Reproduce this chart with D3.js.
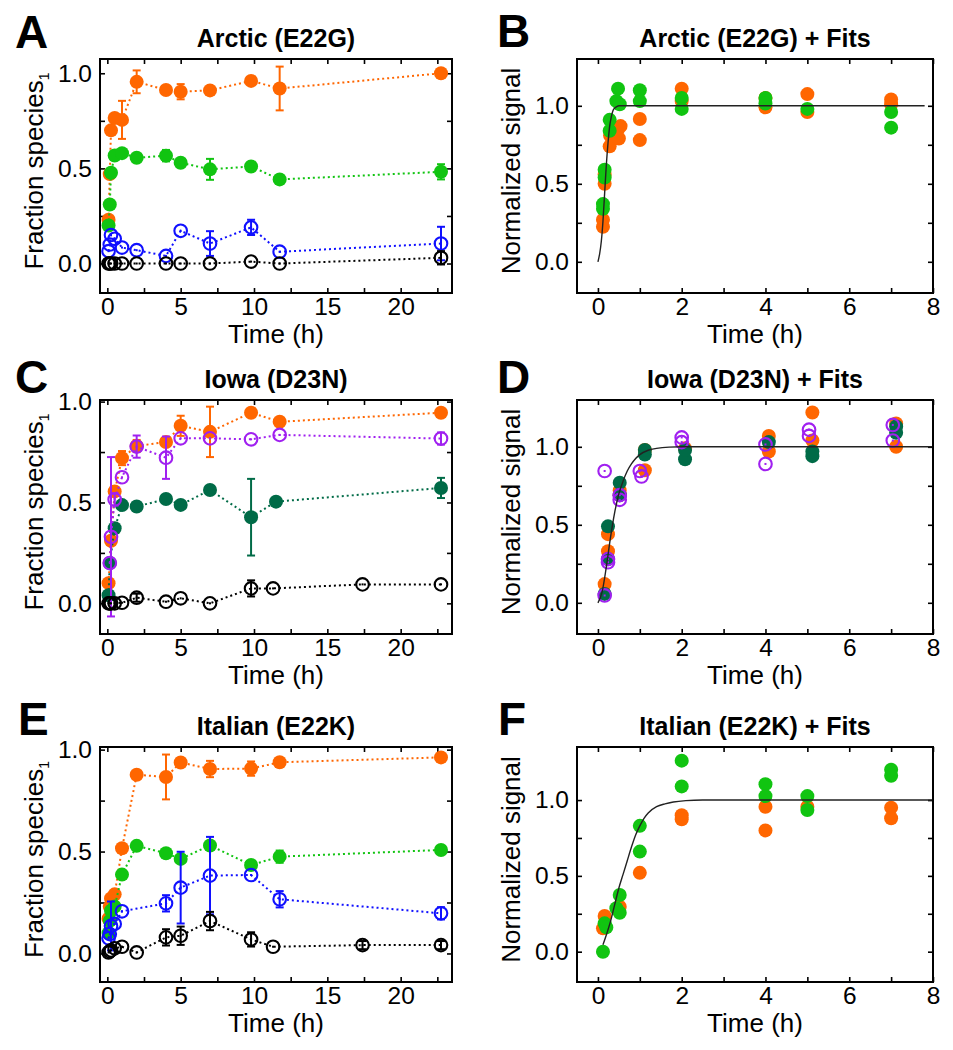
<!DOCTYPE html>
<html>
<head>
<meta charset="utf-8">
<script src="https://cdn.jsdelivr.net/npm/d3@7"></script>
<style>
  html, body { margin: 0; padding: 0; background: #fff; }
  svg { display: block; }
  text { font-family: "Liberation Sans", Arial, Helvetica, sans-serif; fill: #000; }
</style>
</head>
<body>
<svg id="chart" width="953" height="1050"></svg>
<script>
// ---------------- DATA ----------------
// Panel A: Arctic (E22G)
const A_time = [0.083, 0.167, 0.25, 0.5, 1, 2, 4, 5, 7, 9.8, 11.75, 22.75];
const A_orange = [0.23, 0.47, 0.70, 0.765, 0.755, 0.955, 0.912, 0.903, 0.91, 0.96, 0.92, 1.0];
const A_orange_err = [0, 0, 0, 0, 0.1, 0.06, 0, 0.04, 0, 0, 0.115, 0];
const A_green = [0.20, 0.31, 0.477, 0.568, 0.58, 0.556, 0.567, 0.53, 0.495, 0.51, 0.442, 0.482];
const A_green_err = [0, 0, 0, 0, 0, 0, 0.03, 0, 0.055, 0, 0, 0.04];
const A_blue = [0.065, 0.10, 0.15, 0.13, 0.084, 0.07, 0.04, 0.172, 0.105, 0.19, 0.062, 0.105];
const A_blue_err = [0, 0, 0, 0, 0, 0, 0, 0, 0.065, 0.04, 0, 0.088];
const A_black = [0, 0, 0, 0, 0, 0, 0, 0, 0, 0.01, 0, 0.03];
const A_black_err = [0, 0, 0, 0, 0, 0, 0, 0, 0, 0, 0, 0.035];

// Panel C: Iowa (D23N)
const C_orange_t = [0.083, 0.25, 0.5, 1, 2, 4, 5, 7, 9.8, 11.75, 22.75];
const C_orange = [0.10, 0.31, 0.555, 0.72, 0.78, 0.80, 0.88, 0.85, 0.945, 0.90, 0.945];
const C_orange_err = [0, 0, 0.02, 0.035, 0.03, 0, 0.05, 0.125, 0, 0, 0];
const C_green_t = [0.083, 0.167, 0.5, 1, 2, 4, 5, 7, 9.8, 11.5, 22.75];
const C_green = [0.04, 0.2, 0.372, 0.487, 0.48, 0.517, 0.488, 0.562, 0.427, 0.504, 0.572];
const C_green_err = [0, 0, 0, 0, 0, 0, 0, 0, 0.19, 0, 0.05];
const C_purple_t = [0.167, 0.25, 0.5, 1, 2, 4, 5, 7, 9.8, 11.75, 22.75];
const C_purple = [0.20, 0.33, 0.515, 0.625, 0.777, 0.722, 0.818, 0.818, 0.813, 0.835, 0.817];
const C_purple_err = [0, 0.395, 0.03, 0, 0.055, 0.105, 0, 0, 0, 0, 0.03];
const C_black_t = [0.083, 0.167, 0.25, 0.5, 1, 2, 4, 5, 7, 9.8, 11.3, 17.4, 22.75];
const C_black = [0, 0, 0, 0, 0.003, 0.028, 0.008, 0.025, 0.0, 0.074, 0.074, 0.094, 0.094];
const C_black_err = [0, 0, 0, 0, 0, 0.02, 0, 0, 0, 0.04, 0, 0, 0];

// Panel E: Italian (E22K)
const E_time = [0.083, 0.167, 0.25, 0.5, 1, 2, 4, 5, 7, 9.8, 11.75, 22.75];
const E_orange = [0.17, 0.23, 0.27, 0.29, 0.516, 0.877, 0.866, 0.937, 0.905, 0.907, 0.938, 0.962];
const E_orange_err = [0, 0, 0, 0, 0, 0, 0.11, 0, 0.04, 0.035, 0, 0];
const E_green = [0.10, 0.16, 0.21, 0.23, 0.387, 0.528, 0.492, 0.464, 0.53, 0.434, 0.475, 0.508];
const E_green_err = [0, 0, 0, 0, 0, 0, 0, 0, 0, 0, 0.03, 0];
const E_blue_t = [0.083, 0.167, 0.25, 0.5, 1, 4, 5, 7, 9.8, 11.75, 22.75];
const E_blue = [0.075, 0.095, 0.135, 0.145, 0.207, 0.246, 0.323, 0.382, 0.385, 0.266, 0.197];
const E_blue_err = [0, 0, 0.12, 0, 0, 0.04, 0.176, 0.19, 0, 0.04, 0.03];
const E_black_t = [0.083, 0.167, 0.25, 0.5, 1, 2, 4, 5, 7, 9.8, 11.3, 17.4, 22.75];
const E_black = [0.005, 0.01, 0.015, 0.025, 0.033, 0.005, 0.079, 0.087, 0.159, 0.069, 0.033, 0.041, 0.041];
const E_black_err = [0, 0, 0, 0, 0, 0, 0.04, 0.045, 0.045, 0.035, 0, 0.02, 0.02];

// Panel B: Arctic + fits (replicate points)
const B_orange_t = [0.12, 0.12, 0.16, 0.16, 0.28, 0.29, 0.48, 0.5, 0.54, 1, 1, 2, 2, 4, 4, 5, 5, 7, 7];
const B_orange = [0.27, 0.225, 0.50, 0.56, 0.74, 0.81, 0.85, 0.79, 0.87, 0.915, 0.78, 1.11, 1.03, 1.05, 0.99, 1.075, 0.96, 1.04, 1.01];
const B_green_t = [0.12, 0.12, 0.16, 0.16, 0.28, 0.28, 0.44, 0.48, 0.52, 1, 1, 2, 2, 4, 4, 5, 7, 7];
const B_green = [0.37, 0.34, 0.59, 0.54, 0.91, 0.84, 1.03, 1.11, 1.01, 1.10, 1.03, 1.05, 0.98, 1.05, 1.015, 0.98, 0.96, 0.86];
const B_fit_t = [0, 0.04, 0.08, 0.12, 0.16, 0.2, 0.24, 0.28, 0.32, 0.36, 0.4, 0.45, 0.5, 0.6, 7.8];
const B_fit = [0, 0.05, 0.13, 0.26, 0.44, 0.62, 0.76, 0.87, 0.93, 0.97, 0.985, 0.995, 1.0, 1.0, 1.0];

// Panel D: Iowa + fits
const D_orange_t = [0.16, 0.24, 0.24, 0.52, 0.52, 1.12, 1.12, 2.08, 4.08, 4.08, 5.12, 5.12, 7.12, 7.12];
const D_orange = [0.12, 0.44, 0.33, 0.72, 0.69, 0.98, 0.85, 0.99, 1.07, 0.97, 1.22, 1.04, 1.15, 1.0];
const D_green_t = [0.16, 0.24, 0.24, 0.52, 0.52, 1.12, 1.12, 2.08, 2.08, 4.08, 5.12, 5.12, 7.12, 7.12];
const D_green = [0.057, 0.49, 0.28, 0.77, 0.69, 0.95, 0.98, 0.92, 0.98, 1.03, 0.94, 0.97, 1.13, 1.09];
const D_purple_t = [0.16, 0.16, 0.24, 0.24, 0.52, 0.52, 1.0, 1.04, 2.0, 2.0, 4.0, 4.0, 5.04, 5.04, 7.04, 7.04];
const D_purple = [0.845, 0.047, 0.28, 0.26, 0.69, 0.66, 0.845, 0.81, 1.06, 1.03, 1.015, 0.89, 1.11, 1.07, 1.14, 1.04];
const D_fit_t = [0, 0.1, 0.2, 0.3, 0.4, 0.5, 0.6, 0.7, 0.8, 0.9, 1.0, 1.2, 1.4, 1.7, 2.0, 8.0];
const D_fit = [0, 0.07, 0.23, 0.42, 0.58, 0.70, 0.78, 0.845, 0.89, 0.925, 0.95, 0.978, 0.99, 0.998, 1.0, 1.0];

// Panel F: Italian + fits
const F_orange_t = [0.12, 0.16, 0.52, 1, 2, 2, 4, 4, 5, 7, 7];
const F_orange = [0.154, 0.235, 0.297, 0.52, 0.90, 0.873, 0.956, 0.80, 0.956, 0.95, 0.88];
const F_green_t = [0.12, 0.16, 0.2, 0.44, 0.52, 0.52, 1, 1, 2, 2, 4, 4, 5, 5, 7, 7];
const F_green = [0.0, 0.187, 0.16, 0.286, 0.374, 0.257, 0.83, 0.66, 1.26, 1.09, 1.105, 1.026, 1.026, 0.934, 1.20, 1.16];
const F_fit_t = [0.12, 0.2, 0.3, 0.4, 0.5, 0.6, 0.7, 0.8, 0.9, 1.0, 1.1, 1.2, 1.4, 1.6, 1.8, 2.1, 2.5, 8.0];
const F_fit = [0.045, 0.11, 0.2, 0.31, 0.42, 0.51, 0.60, 0.69, 0.77, 0.83, 0.88, 0.915, 0.956, 0.975, 0.987, 0.996, 1.0, 1.0];

// Tick values
const xTicksLong = [0, 2.5, 5, 7.5, 10, 12.5, 15, 17.5, 20, 22.5];
const xLabelsLong = [0, 5, 10, 15, 20];
const xTicksShort = [0, 1, 2, 3, 4, 5, 6, 7, 8];
const xLabelsShort = [0, 2, 4, 6, 8];
const yTicks = [0, 0.25, 0.5, 0.75, 1.0];
const yLabels = [0, 0.5, 1.0];

// ---------------- STYLE ----------------
const COL = {
  orange: "#ff6600",
  green: "#11c411",
  blue: "#1010ff",
  black: "#000000",
  dkgreen: "#006b47",
  purple: "#a020f0"
};

const svg = d3.select("#chart");
const LEFT = [100, 452], RIGHT = [577, 933];
const ROWS = [[59, 293], [400, 634], [747, 982]];

function zip(t, v, e) { return t.map((d, i) => ({ t: d, v: v[i], e: e ? e[i] : 0 })); }

const panels = [
  { letter: "A", title: "Arctic (E22G)", col: LEFT, row: ROWS[0], xd: [-0.5, 23.5], yd: [-0.155, 1.075], long: true, letterPos: [15, 48],
    series: [
      { c: COL.orange, open: false, d: zip(A_time, A_orange, A_orange_err) },
      { c: COL.green, open: false, d: zip(A_time, A_green, A_green_err) },
      { c: COL.blue, open: true, d: zip(A_time, A_blue, A_blue_err) },
      { c: COL.black, open: true, d: zip(A_time, A_black, A_black_err) }
    ] },
  { letter: "C", title: "Iowa (D23N)", col: LEFT, row: ROWS[1], xd: [-0.5, 23.5], yd: [-0.152, 1.008], long: true, letterPos: [15, 393],
    series: [
      { c: COL.orange, open: false, d: zip(C_orange_t, C_orange, C_orange_err) },
      { c: COL.dkgreen, open: false, d: zip(C_green_t, C_green, C_green_err) },
      { c: COL.purple, open: true, d: zip(C_purple_t, C_purple, C_purple_err) },
      { c: COL.black, open: true, d: zip(C_black_t, C_black, C_black_err) }
    ] },
  { letter: "E", title: "Italian (E22K)", col: LEFT, row: ROWS[2], xd: [-0.5, 23.5], yd: [-0.14, 1.013], long: true, letterPos: [18, 735],
    series: [
      { c: COL.orange, open: false, d: zip(E_time, E_orange, E_orange_err) },
      { c: COL.green, open: false, d: zip(E_time, E_green, E_green_err) },
      { c: COL.blue, open: true, d: zip(E_blue_t, E_blue, E_blue_err) },
      { c: COL.black, open: true, d: zip(E_black_t, E_black, E_black_err) }
    ] },
  { letter: "B", title: "Arctic (E22G) + Fits", col: RIGHT, row: ROWS[0], xd: [-0.5, 8], yd: [-0.2, 1.3], long: false, letterPos: [497, 47],
    series: [
      { c: COL.orange, open: false, d: zip(B_orange_t, B_orange) },
      { c: COL.green, open: false, d: zip(B_green_t, B_green) }
    ], fit: zip(B_fit_t, B_fit) },
  { letter: "D", title: "Iowa (D23N) + Fits", col: RIGHT, row: ROWS[1], xd: [-0.5, 8], yd: [-0.2, 1.3], long: false, letterPos: [497, 393],
    series: [
      { c: COL.orange, open: false, d: zip(D_orange_t, D_orange) },
      { c: COL.dkgreen, open: false, d: zip(D_green_t, D_green) },
      { c: COL.purple, open: true, d: zip(D_purple_t, D_purple) }
    ], fit: zip(D_fit_t, D_fit) },
  { letter: "F", title: "Italian (E22K) + Fits", col: RIGHT, row: ROWS[2], xd: [-0.5, 8], yd: [-0.2, 1.35], long: false, letterPos: [498, 735],
    series: [
      { c: COL.orange, open: false, d: zip(F_orange_t, F_orange) },
      { c: COL.green, open: false, d: zip(F_green_t, F_green) }
    ], fit: zip(F_fit_t, F_fit) }
];

const fmt = d3.format(".1f");

panels.forEach(p => {
  const [x0, x1] = p.col, [y0, y1] = p.row;
  const x = d3.scaleLinear().domain(p.xd).range([x0, x1]);
  const y = d3.scaleLinear().domain(p.yd).range([y1, y0]);
  const g = svg.append("g");
  const xt = p.long ? xTicksLong : xTicksShort;
  const xl = p.long ? xLabelsLong : xLabelsShort;

  const cid = "clip" + p.letter;
  svg.append("clipPath").attr("id", cid).append("rect")
    .attr("x", x0).attr("y", y0).attr("width", x1 - x0).attr("height", y1 - y0);

  const axB = d3.axisBottom(x).tickValues(xt).tickSize(-5).tickPadding(5)
    .tickFormat(d => xl.includes(d) ? d3.format("d")(d) : "");
  const axT = d3.axisTop(x).tickValues(xt).tickSize(-5).tickFormat("");
  const axL = d3.axisLeft(y).tickValues(yTicks).tickSize(-5).tickPadding(8)
    .tickFormat(d => yLabels.includes(d) ? fmt(d) : "");
  const axR = d3.axisRight(y).tickValues(yTicks).tickSize(-5).tickFormat("");

  [[axB, `translate(0,${y1})`], [axT, `translate(0,${y0})`], [axL, `translate(${x0},0)`], [axR, `translate(${x1},0)`]]
    .forEach(([ax, tr]) => {
      const a = g.append("g").attr("transform", tr).call(ax);
      a.select(".domain").remove();
      a.selectAll(".tick line").attr("stroke", "#000").attr("stroke-width", 1.6);
      a.selectAll(".tick text").attr("font-size", 24.5).attr("fill", "#000")
        .style("font-family", '"Liberation Sans", Arial, sans-serif');
    });

  const plot = g.append("g").attr("clip-path", `url(#${cid})`);

  p.series.forEach(s => {
    const sg = plot.append("g");
    if (p.long) {
      const line = d3.line().x(d => x(d.t)).y(d => y(d.v));
      sg.append("path").datum(s.d).attr("d", line)
        .attr("fill", "none").attr("stroke", s.c).attr("stroke-width", 2)
        .attr("stroke-dasharray", "2,3");
      s.d.filter(d => d.e > 0).forEach(d => {
        sg.append("line").attr("x1", x(d.t)).attr("x2", x(d.t))
          .attr("y1", y(d.v - d.e)).attr("y2", y(d.v + d.e))
          .attr("stroke", s.c).attr("stroke-width", 2);
        [d.v - d.e, d.v + d.e].forEach(v => {
          sg.append("line").attr("x1", x(d.t) - 4).attr("x2", x(d.t) + 4)
            .attr("y1", y(v)).attr("y2", y(v))
            .attr("stroke", s.c).attr("stroke-width", 2);
        });
      });
    }
    sg.selectAll("circle.m").data(s.d).join("circle")
      .attr("class", "m")
      .attr("cx", d => x(d.t)).attr("cy", d => y(d.v))
      .attr("r", s.open ? 6.3 : 7)
      .attr("fill", s.open ? "none" : s.c)
      .attr("stroke", s.open ? s.c : "none")
      .attr("stroke-width", s.open ? 2.1 : 0);
    if (s.open) {
      sg.selectAll("rect.cd").data(s.d).join("rect")
        .attr("class", "cd")
        .attr("x", d => x(d.t) - 1).attr("y", d => y(d.v) - 1)
        .attr("width", 2).attr("height", 2).attr("fill", s.c);
    }
  });

  if (p.fit) {
    const fl = d3.line().x(d => x(d.t)).y(d => y(d.v)).curve(d3.curveMonotoneX);
    plot.append("path").datum(p.fit).attr("d", fl)
      .attr("fill", "none").attr("stroke", "#222").attr("stroke-width", 1.4);
  }

  g.append("rect").attr("x", x0).attr("y", y0).attr("width", x1 - x0).attr("height", y1 - y0)
    .attr("fill", "none").attr("stroke", "#000").attr("stroke-width", 2);

  g.append("text").attr("x", (x0 + x1) / 2).attr("y", y0 - 12)
    .attr("text-anchor", "middle").attr("font-size", 25).attr("font-weight", "bold")
    .text(p.title);

  g.append("text").attr("x", p.letterPos[0]).attr("y", p.letterPos[1])
    .attr("font-size", 46).attr("font-weight", "bold").text(p.letter);

  g.append("text").attr("x", (x0 + x1) / 2).attr("y", y1 + 50)
    .attr("text-anchor", "middle").attr("font-size", 26).text("Time (h)");

  const yl = g.append("text")
    .attr("transform", `translate(${x0 - 57},${(y0 + y1) / 2 - 5}) rotate(-90)`)
    .attr("text-anchor", "middle").attr("font-size", 26);
  if (p.long) {
    yl.append("tspan").text("Fraction species");
    yl.append("tspan").attr("font-size", 14).attr("dy", 6).text("1");
  } else {
    yl.text("Normalized signal");
  }
});
</script>
</body>
</html>
